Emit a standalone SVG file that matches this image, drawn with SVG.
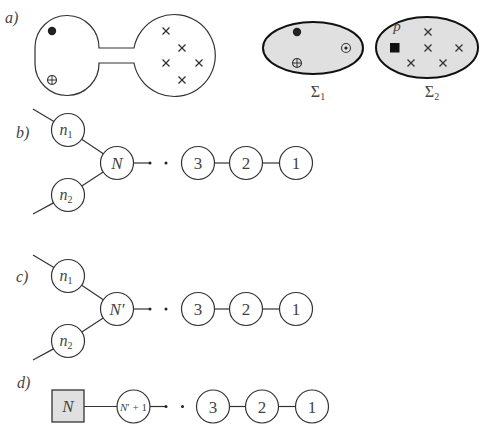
<svg xmlns="http://www.w3.org/2000/svg" width="485" height="428" viewBox="0 0 485 428">
<defs>
<style>
.ln{stroke:#333;stroke-width:1.2;fill:none}
.nd{fill:#fff;stroke:#333;stroke-width:1.2}
.t{font-family:"Liberation Serif","DejaVu Serif",serif;fill:#444;text-anchor:middle}
.it{font-style:italic}
.lab{font-family:"Liberation Serif","DejaVu Serif",serif;font-style:italic;font-size:16px;fill:#444}
.x{stroke:#333;stroke-width:1.3}
.dot{fill:#222}
</style>
<g id="cross"><line class="x" x1="-3.5" y1="-3.5" x2="3.5" y2="3.5"/><line class="x" x1="-3.5" y1="3.5" x2="3.5" y2="-3.5"/></g>
<g id="oplus"><circle r="4.5" fill="none" stroke="#333" stroke-width="1.1"/><line x1="-4.5" y1="0" x2="4.5" y2="0" stroke="#333" stroke-width="1"/><line x1="0" y1="-4.5" x2="0" y2="4.5" stroke="#333" stroke-width="1"/></g>
</defs>

<!-- labels -->
<text class="lab" x="5" y="23">a)</text>
<text class="lab" x="16" y="138">b)</text>
<text class="lab" x="16" y="282">c)</text>
<text class="lab" x="17" y="388">d)</text>

<!-- a) dumbbell -->
<g id="dumbbell">
<path class="ln" d="M99,48 A32,32 0 1 0 35,47 L35,64 A32,32 0 1 0 99,63 L134,63 A41,41 0 1 0 134,48 Z"/>
<circle class="dot" cx="52" cy="31" r="4.2"/>
<use href="#oplus" x="52" y="80"/>
<use href="#cross" x="166" y="31"/>
<use href="#cross" x="182" y="48"/>
<use href="#cross" x="166" y="63"/>
<use href="#cross" x="199" y="63"/>
<use href="#cross" x="182" y="80"/>
</g>

<g id="sigma1">
<ellipse cx="313" cy="48" rx="50" ry="26" fill="#e0e0e0" stroke="#111" stroke-width="2"/>
<circle class="dot" cx="297" cy="32" r="4.2"/>
<circle cx="346" cy="48" r="4.5" fill="none" stroke="#333" stroke-width="1.1"/>
<circle class="dot" cx="346" cy="48" r="1.6"/>
<use href="#oplus" x="297" y="63"/>
<text class="t" x="318" y="97" font-size="16">Σ<tspan font-size="10" dy="3">1</tspan></text>
</g>

<g id="sigma2">
<ellipse cx="427" cy="47.5" rx="51" ry="30.5" fill="#e0e0e0" stroke="#111" stroke-width="2"/>
<text class="t it" x="397" y="31" font-size="15">p</text>
<rect x="390" y="43" width="9.5" height="9.5" fill="#111"/>
<use href="#cross" x="428" y="32"/>
<use href="#cross" x="428" y="48"/>
<use href="#cross" x="459" y="48"/>
<use href="#cross" x="411" y="63"/>
<use href="#cross" x="443" y="63"/>
<text class="t" x="432" y="97" font-size="16">Σ<tspan font-size="10" dy="3">2</tspan></text>
</g>

<!-- connectors -->
<g id="connectors">
<line class="ln" x1="33" y1="109" x2="53.9" y2="121.5"/>
<line class="ln" x1="33" y1="214" x2="53.5" y2="202.9"/>
<line class="ln" x1="81.7" y1="139.2" x2="103.3" y2="153.8"/>
<line class="ln" x1="81.8" y1="186" x2="103.2" y2="172"/>
<line class="ln" x1="133.5" y1="163" x2="150" y2="163"/>
<line class="ln" x1="214.5" y1="163" x2="229.5" y2="163"/>
<line class="ln" x1="262.5" y1="163" x2="279.5" y2="163"/>

<line class="ln" x1="33" y1="255" x2="53.9" y2="267.5"/>
<line class="ln" x1="33" y1="360" x2="53.5" y2="348.9"/>
<line class="ln" x1="81.7" y1="285.2" x2="103.3" y2="299.8"/>
<line class="ln" x1="81.8" y1="332" x2="103.2" y2="318"/>
<line class="ln" x1="133.5" y1="309" x2="150" y2="309"/>
<line class="ln" x1="214.5" y1="309" x2="229.5" y2="309"/>
<line class="ln" x1="262.5" y1="309" x2="279.5" y2="309"/>

<line class="ln" x1="84" y1="406.5" x2="117" y2="406.5"/>
<line class="ln" x1="150" y1="406.5" x2="166" y2="406.5"/>
<line class="ln" x1="229.5" y1="406.5" x2="245.5" y2="406.5"/>
<line class="ln" x1="278.5" y1="406.5" x2="295.5" y2="406.5"/>

<circle class="dot" cx="150" cy="163" r="1.5"/>
<circle class="dot" cx="166" cy="163" r="1.5"/>
<circle class="dot" cx="150" cy="309" r="1.5"/>
<circle class="dot" cx="166" cy="309" r="1.5"/>
<circle class="dot" cx="166" cy="406.5" r="1.5"/>
<circle class="dot" cx="182.5" cy="406.5" r="1.5"/>
</g>

<!-- b) nodes -->
<g id="b-n1"><circle class="nd" cx="68" cy="130" r="16.5"/><text class="t it" x="66" y="135" font-size="16">n<tspan font-style="normal" font-size="10" dy="3">1</tspan></text></g>
<g id="b-n2"><circle class="nd" cx="68" cy="195" r="16.5"/><text class="t it" x="66" y="200" font-size="16">n<tspan font-style="normal" font-size="10" dy="3">2</tspan></text></g>
<g id="b-N"><circle class="nd" cx="117" cy="163" r="16.5"/><text class="t it" x="117" y="169" font-size="17">N</text></g>
<g id="b-3"><circle class="nd" cx="198" cy="163" r="16.5"/><text class="t" x="198" y="169" font-size="17">3</text></g>
<g id="b-2"><circle class="nd" cx="246" cy="163" r="16.5"/><text class="t" x="246" y="169" font-size="17">2</text></g>
<g id="b-1"><circle class="nd" cx="296" cy="163" r="16.5" stroke-width="1.6"/><text class="t" x="296" y="169" font-size="17">1</text></g>

<!-- c) nodes -->
<g id="c-n1"><circle class="nd" cx="68" cy="276" r="16.5"/><text class="t it" x="66" y="281" font-size="16">n<tspan font-style="normal" font-size="10" dy="3">1</tspan></text></g>
<g id="c-n2"><circle class="nd" cx="68" cy="341" r="16.5"/><text class="t it" x="66" y="346" font-size="16">n<tspan font-style="normal" font-size="10" dy="3">2</tspan></text></g>
<g id="c-N"><circle class="nd" cx="117" cy="309" r="16.5"/><text class="t it" x="117" y="315" font-size="17">N′</text></g>
<g id="c-3"><circle class="nd" cx="198" cy="309" r="16.5"/><text class="t" x="198" y="315" font-size="17">3</text></g>
<g id="c-2"><circle class="nd" cx="246" cy="309" r="16.5"/><text class="t" x="246" y="315" font-size="17">2</text></g>
<g id="c-1"><circle class="nd" cx="296" cy="309" r="16.5"/><text class="t" x="296" y="315" font-size="17">1</text></g>

<!-- d) nodes -->
<g id="d-N"><rect x="52" y="390" width="32" height="32" fill="#e0e0e0" stroke="#333" stroke-width="1.3"/><text class="t it" x="68" y="412" font-size="17">N</text></g>
<g id="d-Np1"><circle class="nd" cx="133.5" cy="406.5" r="16.5"/><text class="t" x="133.5" y="410.5" font-size="11"><tspan font-style="italic">N</tspan>′ + 1</text></g>
<g id="d-3"><circle class="nd" cx="213" cy="406.5" r="16.5"/><text class="t" x="213" y="412.5" font-size="17">3</text></g>
<g id="d-2"><circle class="nd" cx="262" cy="406.5" r="16.5"/><text class="t" x="262" y="412.5" font-size="17">2</text></g>
<g id="d-1"><circle class="nd" cx="312" cy="406.5" r="16.5"/><text class="t" x="312" y="412.5" font-size="17">1</text></g>
</svg>
